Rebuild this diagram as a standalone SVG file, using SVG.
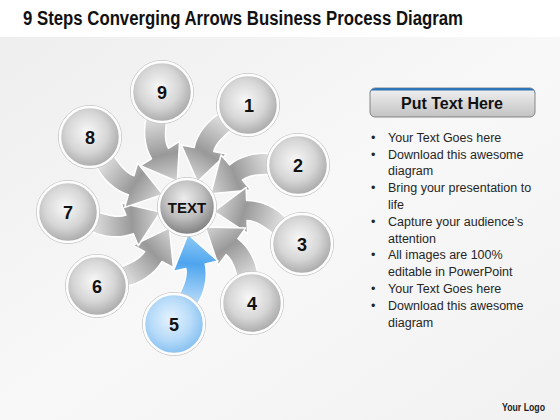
<svg xmlns="http://www.w3.org/2000/svg" xmlns:xlink="http://www.w3.org/1999/xlink" width="560" height="420" viewBox="0 0 560 420">
<style>
.title{font-family:"Liberation Sans",Arial,sans-serif;font-weight:bold;font-size:20px;fill:#111}
.num{font-family:"Liberation Sans",Arial,sans-serif;font-weight:bold;font-size:18px;fill:#111;text-anchor:middle}
.ctext{font-family:"Liberation Sans",Arial,sans-serif;font-weight:bold;font-size:15px;fill:#111;text-anchor:middle}
.hdr{font-family:"Liberation Sans",Arial,sans-serif;font-weight:bold;font-size:16px;fill:#111;text-anchor:middle}
.bul{font-family:"Liberation Sans",Arial,sans-serif;font-size:12.5px;fill:#262626}
.logo{font-family:"Liberation Sans",Arial,sans-serif;font-weight:bold;font-size:10px;fill:#222}
.node{fill:url(#gNode);stroke:#fdfdfd;stroke-width:2.5}
.ring{fill:none;stroke:#c4c4c4;stroke-width:1}
.arrG{fill:url(#gArr);stroke:#fff;stroke-width:1.5;stroke-linejoin:round}
.arrB{fill:url(#gArrB);stroke:#fff;stroke-width:1.5;stroke-linejoin:round}
</style>
<defs>
<linearGradient id="gBg" x1="0" y1="0" x2="1" y2="1">
<stop offset="0" stop-color="#eeeeee"/><stop offset="0.5" stop-color="#f8f8f8"/><stop offset="1" stop-color="#f1f1f1"/>
</linearGradient>
<radialGradient id="gNode" cx="0.45" cy="0.42" r="0.62">
<stop offset="0" stop-color="#f8f8f8"/><stop offset="0.55" stop-color="#d6d6d6"/><stop offset="1" stop-color="#a3a3a3"/>
</radialGradient>
<radialGradient id="gNodeB" cx="0.45" cy="0.42" r="0.62">
<stop offset="0" stop-color="#e6f3fe"/><stop offset="0.55" stop-color="#b7dbf9"/><stop offset="1" stop-color="#7fbcef"/>
</radialGradient>
<radialGradient id="gCenter" cx="0.45" cy="0.35" r="0.65">
<stop offset="0" stop-color="#ededed"/><stop offset="0.55" stop-color="#bdbdbd"/><stop offset="1" stop-color="#7e7e7e"/>
</radialGradient>
<linearGradient id="gArr" gradientUnits="userSpaceOnUse" x1="0" y1="27" x2="0" y2="99">
<stop offset="0" stop-color="#d4d4d4"/><stop offset="0.4" stop-color="#999999"/><stop offset="1" stop-color="#e6e6e6"/>
</linearGradient>
<linearGradient id="gArrB" gradientUnits="userSpaceOnUse" x1="0" y1="27" x2="0" y2="99">
<stop offset="0" stop-color="#8fcaf6"/><stop offset="0.4" stop-color="#4ea5ee"/><stop offset="1" stop-color="#c3e1fb"/>
</linearGradient>
<linearGradient id="gHdr" x1="0" y1="0" x2="0" y2="1">
<stop offset="0" stop-color="#f2f2f2"/><stop offset="1" stop-color="#c2c2c2"/>
</linearGradient>
<path id="arrow" d="M4,27 L36.7,50.3 L24.4,54.7 C29,68 27,86 19,99 L-2,99 C2,86 9,72 5.6,61.3 L-6.7,65.7 Z"/>
</defs>

<rect x="0" y="0" width="560" height="420" fill="#ffffff"/>
<rect x="0" y="37" width="560" height="383" fill="url(#gBg)"/>

<text class="title" x="23" y="25" textLength="440" lengthAdjust="spacingAndGlyphs">9 Steps Converging Arrows Business Process Diagram</text>

<g id="connectors">
<use xlink:href="#arrow" class="arrG" transform="translate(187 207) rotate(167.7)"/>
<use xlink:href="#arrow" class="arrG" transform="translate(187 207) rotate(210.9)"/>
<use xlink:href="#arrow" class="arrG" transform="translate(187 207) rotate(249.3)"/>
<use xlink:href="#arrow" class="arrG" transform="translate(187 207) rotate(-72.2)"/>
<use xlink:href="#arrow" class="arrG" transform="translate(187 207) rotate(-34.1)"/>
<use xlink:href="#arrow" class="arrG" transform="translate(187 207) rotate(48.7)"/>
<use xlink:href="#arrow" class="arrG" transform="translate(187 207) rotate(87.6)"/>
<use xlink:href="#arrow" class="arrG" transform="translate(187 207) rotate(125.8)"/>
<use xlink:href="#arrow" class="arrB" transform="translate(187 207) rotate(6.3)"/>
</g>

<g id="center">
<circle cx="187" cy="207" r="29.5" class="ring"/>
<circle cx="187" cy="207" r="28" fill="url(#gCenter)" stroke="#fdfdfd" stroke-width="2.5"/>
<text class="ctext" x="187" y="213">TEXT</text>
</g>

<g id="node-9"><circle cx="162" cy="92" r="31.5" class="ring"/><circle cx="162" cy="92" r="30" class="node"/><text class="num" x="162" y="98.5">9</text></g>
<g id="node-1"><circle cx="248" cy="105" r="31.5" class="ring"/><circle cx="248" cy="105" r="30" class="node"/><text class="num" x="249" y="111.5">1</text></g>
<g id="node-2"><circle cx="298" cy="165" r="31.5" class="ring"/><circle cx="298" cy="165" r="30" class="node"/><text class="num" x="298" y="171.5">2</text></g>
<g id="node-3"><circle cx="302" cy="244" r="31.5" class="ring"/><circle cx="302" cy="244" r="30" class="node"/><text class="num" x="302" y="250.5">3</text></g>
<g id="node-4"><circle cx="252" cy="303" r="31.5" class="ring"/><circle cx="252" cy="303" r="30" class="node"/><text class="num" x="252" y="309.5">4</text></g>
<g id="node-5"><circle cx="174" cy="324" r="31.5" class="ring"/><circle cx="174" cy="324" r="30" fill="url(#gNodeB)" stroke="#fdfdfd" stroke-width="2.5"/><text class="num" x="174" y="330.5">5</text></g>
<g id="node-6"><circle cx="97" cy="286" r="31.5" class="ring"/><circle cx="97" cy="286" r="30" class="node"/><text class="num" x="97" y="292.5">6</text></g>
<g id="node-7"><circle cx="68" cy="212" r="31.5" class="ring"/><circle cx="68" cy="212" r="30" class="node"/><text class="num" x="68" y="218.5">7</text></g>
<g id="node-8"><circle cx="90" cy="137" r="31.5" class="ring"/><circle cx="90" cy="137" r="30" class="node"/><text class="num" x="90" y="143.5">8</text></g>

<g id="panel">
<rect x="370" y="88" width="165" height="29" rx="5" fill="url(#gHdr)" stroke="#7a7a7a" stroke-width="0.9"/>
<path d="M370,94 Q370,88 376,88 L529,88 Q535,88 535,94 L535,91.5 Q535,90.5 533,90.5 L372,90.5 Q370,90.5 370,91.5 Z" fill="#2f75b5"/>
<text class="hdr" x="452" y="109">Put Text Here</text>
<g class="bul">
<text x="371" y="142">•</text><text x="388" y="142">Your Text Goes here</text>
<text x="371" y="158.5">•</text><text x="388" y="158.5">Download this awesome</text>
<text x="388" y="175">diagram</text>
<text x="371" y="192">•</text><text x="388" y="192">Bring your presentation to</text>
<text x="388" y="209">life</text>
<text x="371" y="225.5">•</text><text x="388" y="225.5">Capture your audience’s</text>
<text x="388" y="242.5">attention</text>
<text x="371" y="259">•</text><text x="388" y="259">All images are 100%</text>
<text x="388" y="276">editable in PowerPoint</text>
<text x="371" y="292.5">•</text><text x="388" y="292.5">Your Text Goes here</text>
<text x="371" y="309.5">•</text><text x="388" y="309.5">Download this awesome</text>
<text x="388" y="326.5">diagram</text>
</g>
</g>

<text class="logo" x="502" y="411" textLength="43" lengthAdjust="spacingAndGlyphs">Your Logo</text>
</svg>
